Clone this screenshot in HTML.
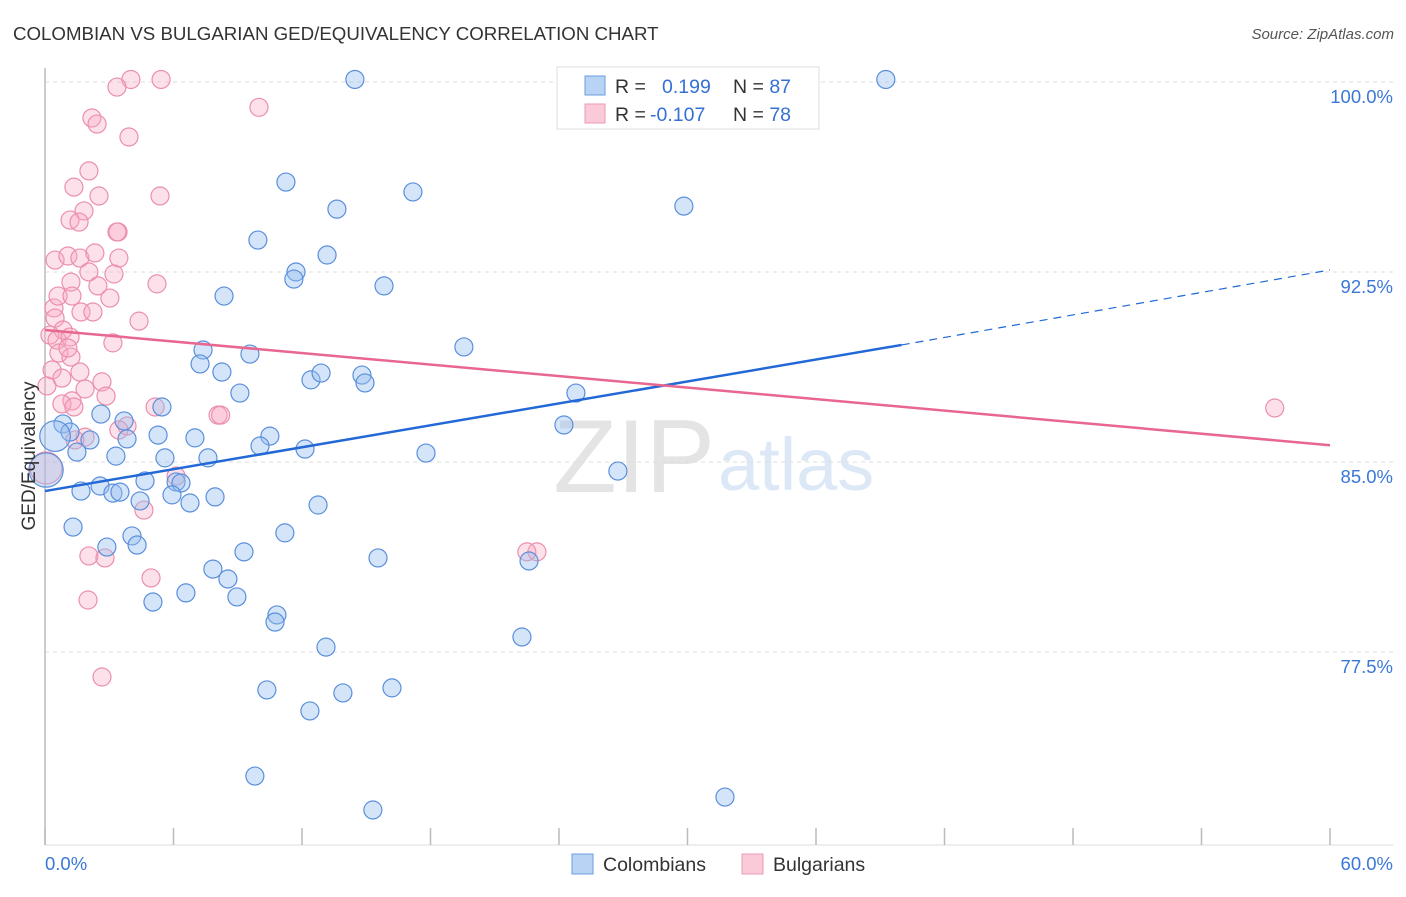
<!DOCTYPE html>
<html><head><meta charset="utf-8"><style>
body{margin:0;background:#fff;font-family:"Liberation Sans",sans-serif;}
svg text{font-family:"Liberation Sans",sans-serif;}
</style></head><body>
<svg id="chart" width="1406" height="892" xmlns="http://www.w3.org/2000/svg">
<text x="13" y="40" font-size="18.7" fill="#333">COLOMBIAN VS BULGARIAN GED/EQUIVALENCY CORRELATION CHART</text>
<text x="1394" y="39" font-size="15" fill="#555" text-anchor="end" font-style="italic">Source: ZipAtlas.com</text>
<text x="715" y="492" font-size="104" fill="#e4e4e4" text-anchor="end" font-family="Liberation Serif">ZIP</text>
<text x="718" y="490" font-size="74" fill="#dce8f6">atlas</text>
<g id="grid"></g>
<g id="axes"></g>
<g id="points"></g>
<g id="trends"></g>
<text transform="translate(35,456) rotate(-90)" font-size="19" fill="#333" text-anchor="middle">GED/Equivalency</text>
<g>
<rect x="557" y="67" width="262" height="62" fill="#fff" stroke="#ddd"/>
<rect x="585" y="76" width="20" height="19" fill="#b9d3f5" stroke="#6a9ce0"/>
<rect x="585" y="104" width="20" height="19" fill="#fbcad8" stroke="#ec9ab3"/>
<text x="615" y="93" font-size="19.5" fill="#333">R = <tspan fill="#3570d4" x="662">0.199</tspan><tspan fill="#333" x="733">N = </tspan><tspan fill="#3570d4">87</tspan></text>
<text x="615" y="121" font-size="19.5" fill="#333">R = <tspan fill="#3570d4" x="650">-0.107</tspan><tspan fill="#333" x="733">N = </tspan><tspan fill="#3570d4">78</tspan></text>
</g>
<g>
<rect x="572" y="854" width="21" height="20" fill="#b9d3f5" stroke="#6a9ce0"/>
<text x="603" y="871" font-size="19.5" fill="#333">Colombians</text>
<rect x="742" y="854" width="21" height="20" fill="#fbcad8" stroke="#ec9ab3"/>
<text x="773" y="871" font-size="19.5" fill="#333">Bulgarians</text>
</g>
</svg>
<script>
const yTicks=[100,92.5,85,77.5];
const yTickLabels=["100.0%","92.5%","85.0%","77.5%"];
const xTickVals=[0,6,12,18,24,30,36,42,48,54,60];
const xEndLabels=["0.0%","60.0%"];
const blueX=[14.47,39.26,11.25,17.18,29.83,13.63,9.94,13.17,11.72,11.62,15.83,8.36,19.56,7.38,9.57,7.24,8.26,14.8,12.42,12.89,14.94,9.1,24.79,5.46,2.61,3.69,0.84,1.17,0.47,2.1,3.83,5.28,7.0,10.5,10.04,12.14,24.23,17.79,3.31,5.6,7.61,1.49,2.57,4.67,6.12,6.35,1.68,3.17,3.5,5.93,6.77,4.44,7.94,12.75,26.75,1.31,11.2,4.06,4.3,2.89,9.29,15.55,22.6,7.84,8.54,6.58,5.04,8.96,10.83,10.74,13.12,22.27,10.36,13.91,16.2,12.37,9.8,31.75,15.31,0.05];
const blueY=[100.1,100.1,96.05,95.66,95.1,94.98,93.76,93.17,92.5,92.22,91.95,91.55,89.54,89.42,89.26,88.87,88.55,88.43,88.24,88.51,88.12,87.72,87.72,87.17,86.89,86.62,86.5,86.18,86.02,85.87,85.91,86.06,85.95,86.02,85.63,85.51,86.46,85.35,85.23,85.16,85.16,85.39,84.05,84.25,84.21,84.17,83.85,83.77,83.81,83.7,83.38,83.46,83.62,83.3,84.64,82.43,82.2,82.08,81.72,81.64,81.45,81.21,81.09,80.77,80.38,79.83,79.47,79.67,78.96,78.68,77.69,78.09,76.0,75.88,76.08,75.17,72.6,71.77,71.26,84.68];
const blueSize=[1,1,1,1,1,1,1,1,1,1,1,1,1,1,1,1,1,1,1,1,1,1,1,1,1,1,1,1,1.7,1,1,1,1,1,1,1,1,1,1,1,1,1,1,1,1,1,1,1,1,1,1,1,1,1,1,1,1,1,1,1,1,1,1,1,1,1,1,1,1,1,1,1,1,1,1,1,1,1,1,1.9];
const pinkX=[4.01,5.42,3.36,9.99,2.19,2.43,3.92,2.05,1.35,2.52,5.37,1.82,1.17,1.59,3.41,0.47,1.07,1.63,2.33,3.45,2.05,3.22,2.47,5.23,1.21,3.03,0.42,0.61,1.26,1.68,2.24,4.39,0.47,0.84,0.23,0.56,1.17,3.17,0.65,1.21,1.07,0.33,1.63,0.79,2.66,1.87,0.09,2.85,1.26,0.79,5.14,8.08,1.35,1.87,3.83,3.45,0.05,6.12,4.62,2.05,2.8,4.95,2.01,2.66,22.97,57.42,1.4,3.36,22.5,8.2];
const pinkY=[100.1,100.1,99.8,99.0,98.58,98.34,97.83,96.49,95.85,95.5,95.5,94.91,94.55,94.47,94.08,92.97,93.13,93.05,93.25,93.05,92.5,92.42,91.95,92.03,92.1,91.47,91.08,91.55,91.55,90.92,90.92,90.56,90.68,90.21,90.01,89.81,89.93,89.7,89.3,89.14,89.5,88.63,88.55,88.31,88.16,87.88,88.0,87.6,87.41,87.29,87.17,86.85,87.17,85.98,86.42,86.26,84.76,84.44,83.1,81.29,81.21,80.42,79.55,76.51,81.45,87.13,85.87,94.08,81.45,86.85];
const blueTrend=[[0,83.85],[40,89.62]];
const blueTrendExt=[[40,89.62],[60,92.58]];
const pinkTrend=[[0,90.21],[60,85.66]];

const X0=45,X1=1330,YTOP=82,PXPER=25.33;
const sx=v=>X0+(X1-X0)*v/60;
const sy=v=>YTOP+(100-v)*PXPER;
const NS="http://www.w3.org/2000/svg";
function mk(tag,attrs,parent){const e=document.createElementNS(NS,tag);for(const k in attrs)e.setAttribute(k,attrs[k]);parent.appendChild(e);return e;}
const grid=document.getElementById('grid'),axes=document.getElementById('axes'),pts=document.getElementById('points'),tr=document.getElementById('trends');
yTicks.forEach((t,i)=>{
  const l=mk('line',{x1:X0,x2:1393,y1:sy(t),y2:sy(t),stroke:'#ddd','stroke-dasharray':'4,4'},grid);
  
  
  const tx=mk('text',{x:1393,y:sy(t)+21,'font-size':18.5,fill:'#3a78d8','text-anchor':'end'},grid);
  tx.textContent=yTickLabels[i];
  
  
});
const ya=mk('line',{x1:X0,x2:X0,y1:68,y2:845,stroke:'#bbb','stroke-width':1.5},axes);


const xa=mk('line',{x1:X0,x2:1393,y1:845,y2:845,stroke:'#ddd'},axes);


xTickVals.forEach(v=>{
  const l=mk('line',{x1:sx(v),x2:sx(v),y1:828,y2:845,stroke:'#bbb','stroke-width':1.5},axes);
  
  
});
[[0,'start',45],[60,'end',1393]].forEach((a,i)=>{
  const t=mk('text',{x:a[2],y:870,'font-size':18.5,fill:'#3a78d8','text-anchor':a[1]},axes);
  t.textContent=xEndLabels[i];
  
  
});
pinkX.forEach((x,i)=>{
  const c=mk('circle',{cx:sx(x),cy:sy(pinkY[i]),r:i==56?16:9,fill:'rgba(248,170,195,0.35)',stroke:'#eb8fab','stroke-width':1.2},pts);
  
  
});
blueX.forEach((x,i)=>{
  const c=mk('circle',{cx:sx(x),cy:sy(blueY[i]),r:9*blueSize[i],fill:'rgba(150,190,240,0.4)',stroke:'#5a8fdc','stroke-width':1.2},pts);
  
  
});
function line(p,st,dash,w,name){
  const l=mk('line',{x1:sx(p[0][0]),y1:sy(p[0][1]),x2:sx(p[1][0]),y2:sy(p[1][1]),stroke:st,'stroke-width':w},tr);
  if(dash)l.setAttribute('stroke-dasharray',dash);
  
  
}
line(blueTrend,'#2268d6',null,2.5,'colombian-trend-line');
line(blueTrendExt,'#2268d6','8,6',1.2,'colombian-trend-extension');
line(pinkTrend,'#e8668f',null,2.5,'bulgarian-trend-line');
</script>
</body></html>
